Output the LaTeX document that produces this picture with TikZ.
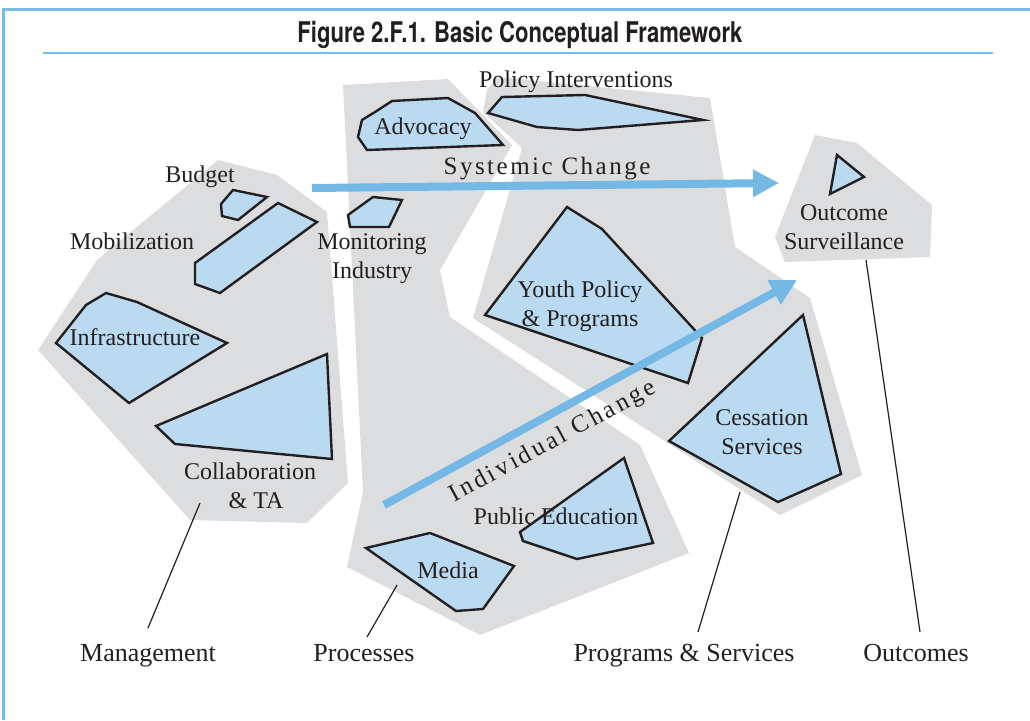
\documentclass[tikz,border=0pt]{standalone}
\usepackage{fontspec}
\usepackage{graphicx}
\setmainfont{Liberation Serif}
\newfontfamily\titlefont{TeX Gyre Heros}
\newfontfamily\spacedfont[LetterSpace=10]{Liberation Serif}
\newfontfamily\spacedfontb[LetterSpace=12]{Liberation Serif}
\usetikzlibrary{arrows.meta}
\definecolor{regiongray}{RGB}{220,221,223}
\definecolor{shapeblue}{RGB}{186,218,241}
\definecolor{arrowblue}{RGB}{116,185,230}
\definecolor{framecol}{RGB}{120,189,232}
\definecolor{textdark}{RGB}{35,31,32}
\tikzset{
  region/.style={fill=regiongray, draw=none},
  shapebox/.style={fill=shapeblue, draw=textdark, line width=2.4pt, line join=miter},
  inlbl/.style={font=\fontsize{24}{28.5}\selectfont, text=textdark, align=center, inner sep=0pt, anchor=base},
  botlbl/.style={font=\fontsize{26}{30}\selectfont, text=textdark, inner sep=0pt, anchor=base},
  leader/.style={draw=textdark, line width=1.2pt},
  bigarrow/.style={draw=arrowblue, line width=8pt, -{Triangle[length=26pt,width=26pt]}},
  framerule/.style={draw=framecol}
}
\begin{document}
\begin{tikzpicture}[x=1pt,y=-1pt]
\useasboundingbox (0,0) rectangle (1030,720);
% frame
\draw[framerule, line width=3pt] (3,720) -- (3,9) -- (1030,9);
\draw[framerule, line width=2.2pt] (43,53) -- (993,53);
\node[text=textdark, inner sep=0pt, anchor=base] (title) at (520,42)
  {\resizebox{445pt}{\height}{\titlefont\bfseries\fontsize{28.5}{32}\selectfont Figure 2.F.1. Basic Conceptual Framework}};

% gray regions
\path[region] (218,160) -- (277,175) -- (327,212) -- (348,483) -- (307,523) -- (190,520) -- (38,350) -- (97,260) -- cycle;
\path[region] (343,85) -- (448,79) -- (512,145) -- (440,270) -- (450,317) -- (640,445) -- (689,553) -- (480,635) -- (347,567) -- (363,492) -- cycle;
\path[region] (487,90) -- (497,77) -- (710,98) -- (735,247) -- (810,298) -- (862,475) -- (780,515) -- (473,318) -- (522,148) -- (483,112) -- cycle;
\path[region] (815,135) -- (857,143) -- (932,205) -- (930,257) -- (785,262) -- (775,237) -- cycle;

% management shapes
\draw[shapebox] (233,190) -- (267,197) -- (238,220) -- (222,216) -- (221,204) -- cycle;
\draw[shapebox] (278,203) -- (317,222) -- (220,293) -- (195,284) -- (195,263) -- cycle;
\draw[shapebox] (106,293) -- (137,302) -- (227,343) -- (129,403) -- (56,343) -- (86,305) -- cycle;
\draw[shapebox] (327,354) -- (332,459) -- (175,444) -- (156,426) -- cycle;

% process shapes
\draw[shapebox] (392,101) -- (448,98) -- (475,113) -- (503,145) -- (367,150) -- (358,137) -- (362,120) -- (375,112) -- cycle;
\draw[shapebox] (373,197) -- (402,200) -- (389,227) -- (350,227) -- (348,215) -- cycle;
\draw[shapebox] (624,458) -- (653,543) -- (577,559) -- (523,541) -- (520,532) -- cycle;
\draw[shapebox] (430,533) -- (514,566) -- (483,609) -- (456,611) -- (366,548) -- cycle;

% programs shapes
\draw[shapebox] (502,97) -- (585,95) -- (703,120) -- (578,130) -- (537,127) -- (488,113) -- cycle;
\draw[shapebox] (567,207) -- (602,229) -- (702,338) -- (688,383) -- (485,315) -- cycle;
\draw[shapebox] (803,315) -- (841,474) -- (778,502) -- (669,441) -- cycle;

% outcome shape
\draw[shapebox] (837,155) -- (864,177) -- (830,194) -- cycle;

% inner labels (anchor base = baseline of last line)
\node[inlbl] (budget) at (200,182) {Budget};
\node[inlbl] (mobil) at (132,249) {Mobilization};
\node[inlbl] (infra) at (135,345) {Infrastructure};
\node[inlbl] (collab) at (250,508) {Collaboration\\\ \ \& TA};
\node[inlbl] (advoc) at (423,134) {Advocacy};
\node[inlbl] (monit) at (372,278) {Monitoring\\Industry};
\node[inlbl] (policy) at (576,87) {Policy Interventions};
\node[inlbl] (youth) at (580,326) {Youth Policy\\\& Programs};
\node[inlbl] (cess) at (762,454) {Cessation\\Services};
\node[inlbl] (pubed) at (556,524) {Public Education};
\node[inlbl] (media) at (448,578) {Media};
\node[inlbl] (outc) at (844,249) {Outcome\\Surveillance};

% change arrows
\coordinate (sysA) at (312,188);
\coordinate (sysB) at (779,183);
\coordinate (indA) at (384,505);
\coordinate (indB) at (797,280);
\draw[bigarrow] (sysA) -- (sysB);
\draw[bigarrow] (indA) -- (indB);
\node[inlbl, font=\fontsize{25}{28}\spacedfont] (sysl) at (547,174) {Systemic Change};
\node[inlbl, anchor=center, font=\fontsize{25}{28}\spacedfontb, rotate=28.6] (indl) at (553,442) {Individual Change};

% bottom labels and leaders
\node[botlbl] (mgmt) at (148,661) {Management};
\node[botlbl] (proc) at (364,661) {Processes};
\node[botlbl] (prog) at (684,661) {Programs \& Services};
\node[botlbl] (outs) at (916,661) {Outcomes};
\coordinate (mgmtA) at (200,503);
\coordinate (mgmtB) at (148,628);
\coordinate (procA) at (397,585);
\coordinate (procB) at (367,637);
\coordinate (progA) at (740,492);
\coordinate (progB) at (698,632);
\coordinate (outsA) at (866,260);
\coordinate (outsB) at (920,632);
\draw[leader] (mgmtA) -- (mgmtB);
\draw[leader] (procA) -- (procB);
\draw[leader] (progA) -- (progB);
\draw[leader] (outsA) -- (outsB);
\end{tikzpicture}
\end{document}
